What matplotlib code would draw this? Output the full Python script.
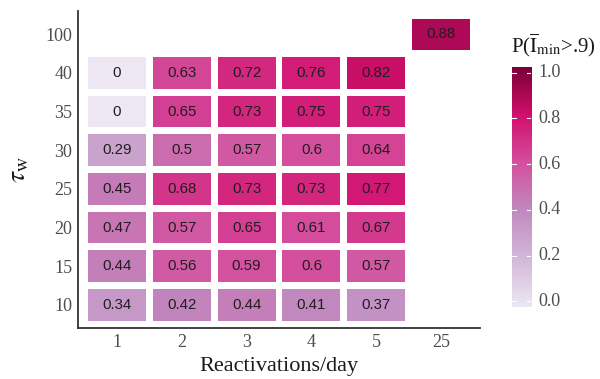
import numpy as np
import matplotlib
matplotlib.use('Agg')
import matplotlib.pyplot as plt
from matplotlib.colors import LinearSegmentedColormap, Normalize

# data
x_labels = ['1', '2', '3', '4', '5', '25']
y_labels = ['10', '15', '20', '25', '30', '35', '40', '100']

# P(I_min > .9) per (tau_w row, reactivations column); nan = no tile
p_10 = [0.34, 0.42, 0.44, 0.41, 0.37, np.nan]
p_15 = [0.44, 0.56, 0.59, 0.60, 0.57, np.nan]
p_20 = [0.47, 0.57, 0.65, 0.61, 0.67, np.nan]
p_25 = [0.45, 0.68, 0.73, 0.73, 0.77, np.nan]
p_30 = [0.29, 0.50, 0.57, 0.60, 0.64, np.nan]
p_35 = [0.00, 0.65, 0.73, 0.75, 0.75, np.nan]
p_40 = [0.00, 0.63, 0.72, 0.76, 0.82, np.nan]
p_100 = [np.nan, np.nan, np.nan, np.nan, np.nan, 0.88]
rows = [p_10, p_15, p_20, p_25, p_30, p_35, p_40, p_100]

plt.rcParams['mathtext.fontset'] = 'stix'
SERIF = 'Liberation Serif'
SANS = 'Liberation Sans'
GREY = '#4d4d4d'

cmap = LinearSegmentedColormap.from_list(
    'purd_soft', ['#ece7f2', '#d3b8d9', '#c08abf', '#d4509e', '#d20f6d', '#7a0035'])
norm = Normalize(0, 1)

fig = plt.figure(figsize=(6, 3.79), dpi=100)
ax = fig.add_axes([0.13, 0.1346, 0.67, 0.836])

tile_w = 1 - 7 / 65
tile_h = 1 - 7 / 38.7
xs = np.arange(len(x_labels))
for j, vals in enumerate(rows):
    vals = np.array(vals)
    ok = ~np.isnan(vals)
    ax.bar(xs[ok], tile_h, width=tile_w, bottom=j - tile_h / 2,
           color=cmap(norm(vals[ok])), linewidth=0)
    for i in xs[ok]:
        ax.text(i, j, f'{vals[i]:g}', ha='center', va='center',
                fontsize=10.8, family=SANS, color='#1e1e1e')

ax.set_xlim(-0.6, len(x_labels) - 0.4)
ax.set_ylim(-0.6, len(y_labels) - 0.4)
ax.set_xticks(xs)
ax.set_xticklabels(x_labels)
ax.set_yticks(np.arange(len(y_labels)))
ax.set_yticklabels(y_labels)
ax.tick_params(length=0, labelsize=13, labelcolor=GREY)
ax.tick_params(axis='y', pad=4)
ax.tick_params(axis='x', pad=4)
for lbl in ax.get_xticklabels() + ax.get_yticklabels():
    lbl.set_family(SERIF)
for sp in ['top', 'right']:
    ax.spines[sp].set_visible(False)
for sp in ['left', 'bottom']:
    ax.spines[sp].set_color('#333333')
    ax.spines[sp].set_linewidth(1.3)

ax.set_xlabel('Reactivations/day', family=SERIF, fontsize=16, color='#1a1a1a', labelpad=5)
ax.set_ylabel(r'$\tau_\mathrm{w}$', fontsize=20, color='#1a1a1a', labelpad=10)

# colour bar
cax = fig.add_axes([0.853, 0.19, 0.032, 0.633])
grad = np.linspace(0, 1, 300)[:, None]
cax.imshow(grad, cmap=cmap, norm=norm, aspect='auto', origin='lower',
           extent=[0, 1, -0.025, 1.025])
cax.set_xlim(0, 1)
cax.set_ylim(-0.025, 1.025)
cax.set_xticks([])
cax.set_yticks([])
for sp in cax.spines.values():
    sp.set_visible(False)
cb_ticks = [0.0, 0.2, 0.4, 0.6, 0.8, 1.0]
for t in cb_ticks:
    cax.plot([0, 0.2], [t, t], color='white', lw=0.8)
    cax.plot([0.8, 1], [t, t], color='white', lw=0.8)
    cax.text(1.4, t, f'{t:.1f}', transform=cax.transData, ha='left', va='center',
             family=SERIF, fontsize=13, color=GREY, clip_on=False)

fig.text(0.851, 0.881, r'P($\overline{\mathrm{I}}_{\mathrm{min}}$>.9)',
         family=SERIF, fontsize=15, color='#1a1a1a', ha='left', va='center')

fig.savefig('out.png', dpi=100, facecolor='white')
